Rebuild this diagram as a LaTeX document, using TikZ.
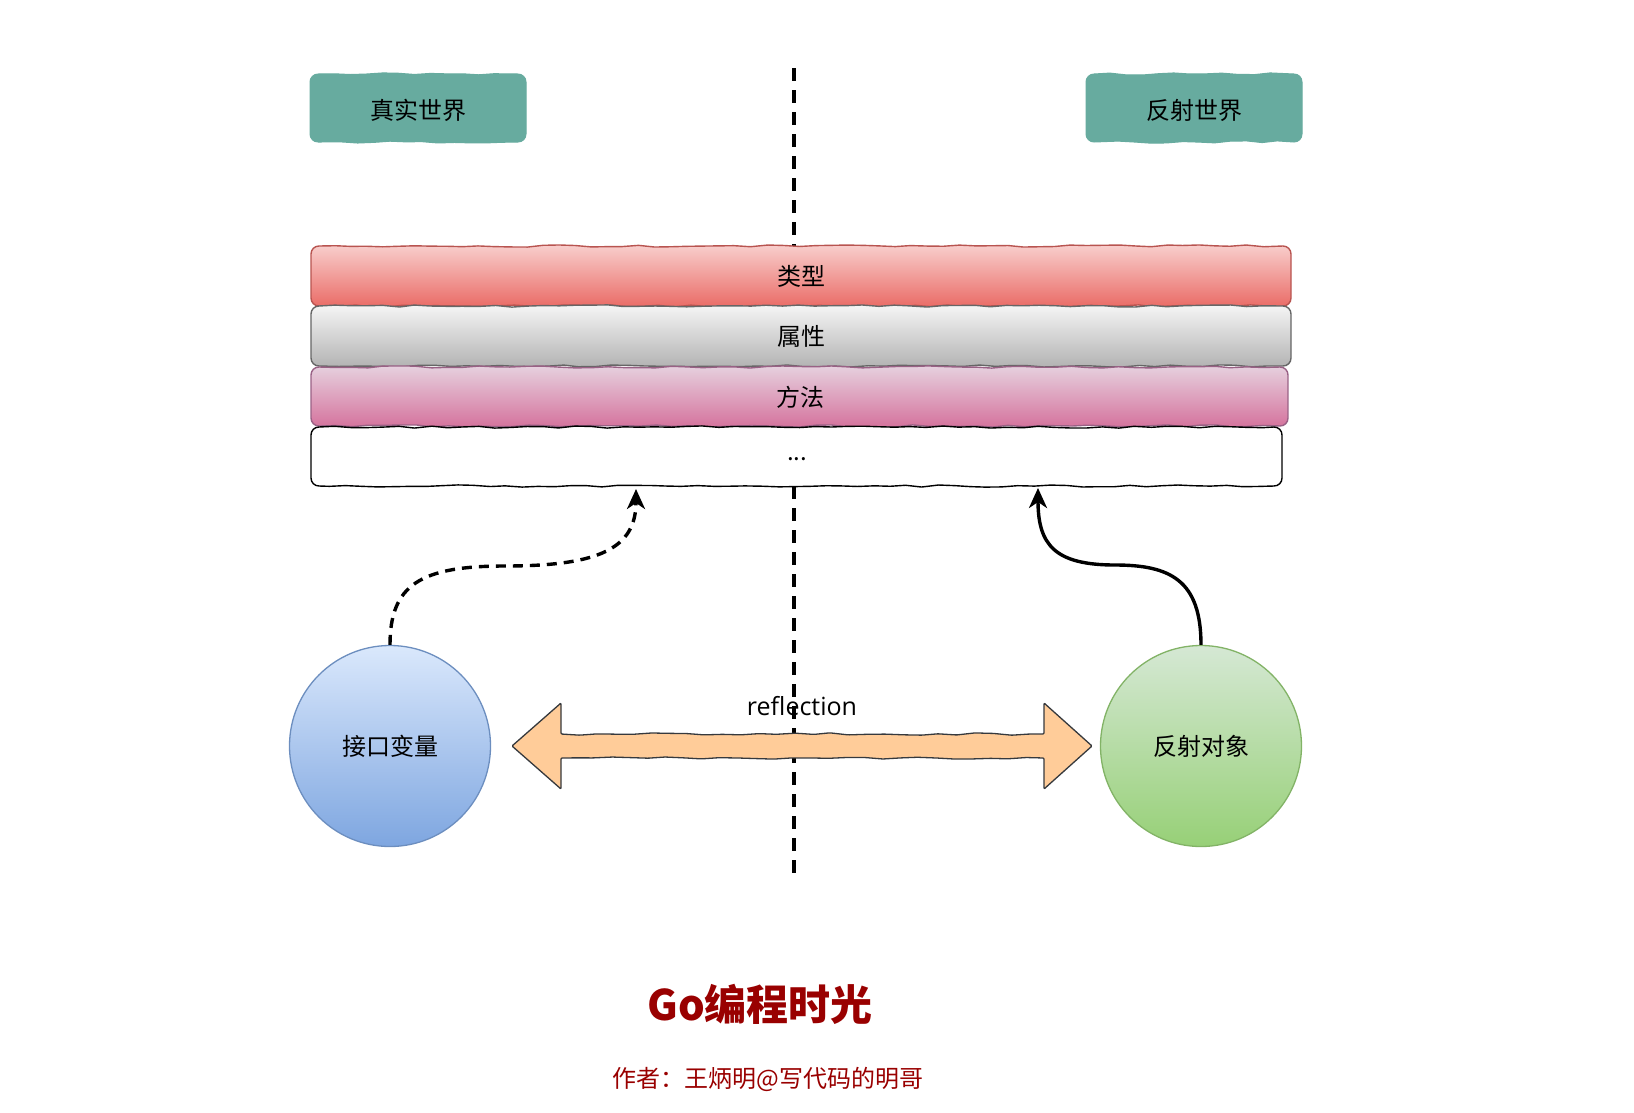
\documentclass[tikz,border=0pt]{standalone}
\usepackage{fontspec}
\setmainfont{Noto Sans CJK SC}
\newfontfamily\latinfont{Open Sans}
\usetikzlibrary{decorations.pathmorphing,arrows.meta,shadings}
\definecolor{cTeal}{HTML}{67AB9F}
\definecolor{cRedTop}{HTML}{F8CECC}
\definecolor{cRedBot}{HTML}{EA6B66}
\definecolor{cRedLine}{HTML}{B85450}
\definecolor{cGrayTop}{HTML}{F5F5F5}
\definecolor{cGrayBot}{HTML}{B3B3B3}
\definecolor{cGrayLine}{HTML}{666666}
\definecolor{cPinkTop}{HTML}{E6D0DE}
\definecolor{cPinkBot}{HTML}{D5739D}
\definecolor{cPinkLine}{HTML}{996185}
\definecolor{cBlueTop}{HTML}{DAE8FC}
\definecolor{cBlueBot}{HTML}{7EA6E0}
\definecolor{cBlueLine}{HTML}{6C8EBF}
\definecolor{cGreenTop}{HTML}{D5E8D4}
\definecolor{cGreenBot}{HTML}{97D077}
\definecolor{cGreenLine}{HTML}{82B366}
\definecolor{cOrange}{HTML}{FFCC99}
\definecolor{cArrowLine}{HTML}{36393D}
\definecolor{cTitle}{HTML}{990000}
\pgfmathsetseed{7}
% hand-drawn rounded box: x1,y1 (top left), x2,y2 (bottom right), options
\newcommand{\wobblybox}[5]{%
  \draw[#5] (#1+8,#2) decorate{-- (#3-8,#2)}
    .. controls (#3-3.5,#2) and (#3,#2+3.5) .. (#3,#2+8) -- (#3,#4-8)
    .. controls (#3,#4-3.5) and (#3-3.5,#4) .. (#3-8,#4) decorate{-- (#1+8,#4)}
    .. controls (#1+3.5,#4) and (#1,#4-3.5) .. (#1,#4-8) -- (#1,#2+8)
    .. controls (#1,#2+3.5) and (#1+3.5,#2) .. cycle;}
\begin{document}
\begin{tikzpicture}[x=1pt,y=-1pt,
  wobble/.style={decoration={random steps,segment length=16pt,amplitude=1.1pt}},
  cjk/.style={font=\fontsize{24}{28}\selectfont},
  world/.style={wobble,draw=cTeal,fill=cTeal,line width=1pt},
  layer/.style={wobble,line width=1.4pt},
  label/.style={cjk,inner sep=0pt},
  ball/.style={circle,cjk,minimum size=201pt,inner sep=0pt,line width=1.3pt},
  divider/.style={line width=3.4pt,dash pattern=on 13pt off 9pt},
  conn/.style={line width=3.4pt,-{Stealth[length=20pt,width=18pt,inset=6pt]}},
  dashconn/.style={conn,dash pattern=on 10pt off 7pt},
  bigarrow/.style={fill=cOrange,draw=cArrowLine,line width=1.3pt,decoration={random steps,segment length=18pt,amplitude=1.2pt},rounded corners=1pt}
]
\useasboundingbox (0,0) rectangle (1634,1112);

% centre divider
\coordinate (vtop) at (794,68);
\coordinate (vbot) at (794,877);
\draw[divider] (vtop) -- (vbot);

% world labels
\wobblybox{310}{74}{526}{142}{world}
\node[label] (real) at (418,110) {真实世界};
\wobblybox{1086}{74}{1302}{142}{world}
\node[label] (mirror) at (1194,110) {反射世界};

% layers
\wobblybox{311}{246}{1291}{306}{layer,draw=cRedLine,top color=cRedTop,bottom color=cRedBot}
\node[label] (type) at (801,276) {类型};
\wobblybox{311}{306}{1291}{366}{layer,draw=cGrayLine,top color=cGrayTop,bottom color=cGrayBot}
\node[label] (attr) at (801,336) {属性};
\wobblybox{311}{367}{1288}{426}{layer,draw=cPinkLine,top color=cPinkTop,bottom color=cPinkBot}
\node[label] (meth) at (800,397) {方法};
\wobblybox{311}{427}{1282}{486}{layer,draw=black,fill=white}
\node[label] (more) at (797,459) {...};

% circles
\node[ball,draw=cBlueLine,top color=cBlueTop,bottom color=cBlueBot] (iface) at (390,746) {接口变量};
\node[ball,draw=cGreenLine,top color=cGreenTop,bottom color=cGreenBot] (robj) at (1201,746) {反射对象};

% big double arrow
\draw[bigarrow] (512,746) -- (561,703) -- (561,734) decorate{-- (1044,734)} -- (1044,703) -- (1092,746) -- (1044,789) -- (1044,758) decorate{-- (561,758)} -- (561,789) -- cycle;
\node[font=\latinfont\fontsize{25}{30}\selectfont] (lbl) at (802,706) {reflection};

% connectors
\coordinate (tipL) at (636,489);
\coordinate (tipR) at (1038,488);
\draw[dashconn] (iface.north) .. controls (390,585) and (420,566) .. (505,566) .. controls (600,566) and (636,548) .. (tipL);
\draw[conn] (robj.north) .. controls (1201,580) and (1170,565) .. (1115,565) .. controls (1055,565) and (1038,545) .. (tipR);

% footer
\node[text=cTitle,font=\bfseries\fontsize{42}{48}\selectfont] (title) at (760,1004) {Go编程时光};
\node[text=cTitle,font=\fontsize{24}{28}\selectfont] (author) at (768,1079) {作者：王炳明@写代码的明哥};
\end{tikzpicture}
\end{document}
